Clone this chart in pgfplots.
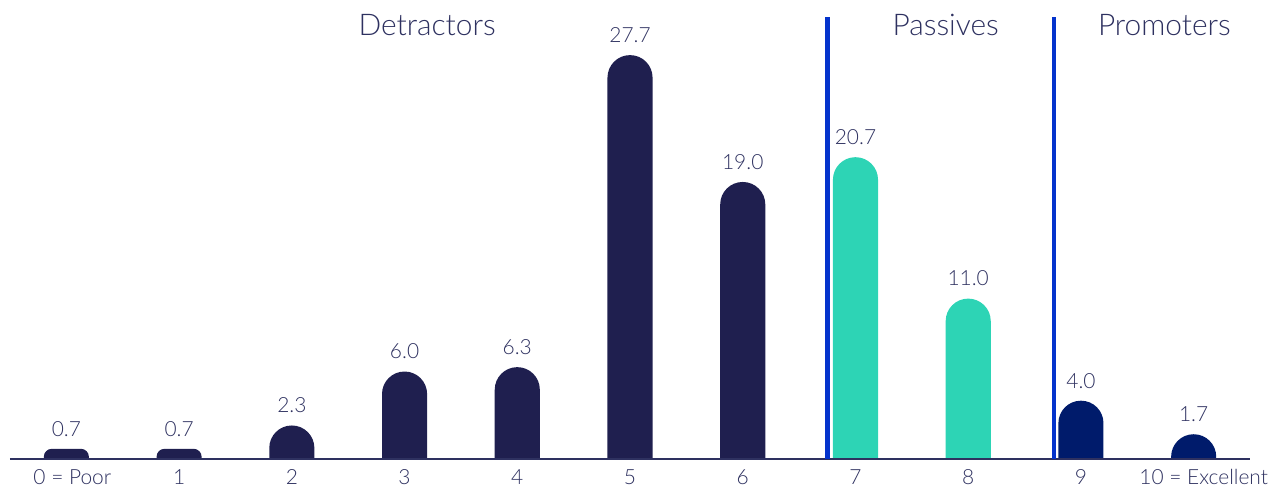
\documentclass[border=0pt]{standalone}
\usepackage{pgfplots}
\pgfplotsset{compat=1.18}
\usepackage{fontspec}
\setmainfont{Lato}[UprightFont={* Light}]
\definecolor{navy}{HTML}{1F1F4F}
\definecolor{teal}{HTML}{2DD4B5}
\definecolor{deepblue}{HTML}{001B6B}
\definecolor{lineblue}{HTML}{0433CC}
\definecolor{txt}{HTML}{2E3160}
\pgfplotstableread{
x y
0 0.7
1 0.7
}\detrsmall
\pgfplotstableread{
x y
2 2.3
3 6.0
4 6.3
5 27.7
6 19.0
}\detr
\pgfplotstableread{
x y
7 20.7
8 11.0
}\pass
\pgfplotstableread{
x y
9 4.0
10 1.7
}\prom
\begin{document}
\begin{tikzpicture}[x=1bp,y=1bp]
\begin{axis}[
  scale only axis, width=1240bp, height=502.74bp,
  xmin=-0.5, xmax=10.5, ymin=0, ymax=34.48,
  axis on top,
  axis x line*=bottom, axis y line=none,
  x axis line style={draw=none},
  xtick={0,...,10},
  xticklabels={\hspace*{12bp}0 = Poor,1,2,3,4,5,6,7,8,9,\hspace*{20bp}10 = Excellent},
  major tick length=0pt,
  xticklabel style={font=\fontsize{21}{25}\selectfont, text=txt, yshift=36.7bp},
  ybar, bar width=0.4, bar shift=0pt,
  y filter/.expression={y+3},
  point meta=explicit,
  nodes near coords,
  every node near coord/.append style={font=\fontsize{21}{25}\selectfont, text=txt, yshift=9bp, /pgf/number format/fixed, /pgf/number format/fixed zerofill, /pgf/number format/precision=1, /pgf/number format/assume math mode=true},
]
\addplot[fill=navy, draw=none, rounded corners=8bp] table[x=x,y=y,meta=y]{\detrsmall};
\addplot[fill=navy, draw=none, rounded corners=22.5bp] table[x=x,y=y,meta=y]{\detr};
\addplot[fill=teal, draw=none, rounded corners=22.5bp] table[x=x,y=y,meta=y]{\pass};
\addplot[fill=deepblue, draw=none, rounded corners=22.5bp] table[x=x,y=y,meta=y]{\prom};
\fill[white] (axis cs:-0.6,-0.5) rectangle (axis cs:10.9,3);
\draw[txt, line width=1.3bp] (axis cs:-0.5,3) -- (axis cs:10.5,3);
\draw[lineblue, line width=4.5bp] (axis cs:6.75,3) -- (axis cs:6.75,33.32);
\draw[lineblue, line width=4.5bp] (axis cs:8.76,3) -- (axis cs:8.76,33.32);
\node[text=txt, font=\fontsize{30}{34}\selectfont] at (axis cs:3.2,32.77) {Detractors};
\node[text=txt, font=\fontsize{30}{34}\selectfont] at (axis cs:7.8,32.77) {Passives};
\node[text=txt, font=\fontsize{30}{34}\selectfont] at (axis cs:9.74,32.77) {Promoters};
\coordinate (bl) at (axis cs:-0.5887,1.011);
\coordinate (tr) at (axis cs:10.828,34.48);
\end{axis}
\pgfresetboundingbox
\path[use as bounding box] (bl) rectangle (tr);
\end{tikzpicture}
\end{document}
